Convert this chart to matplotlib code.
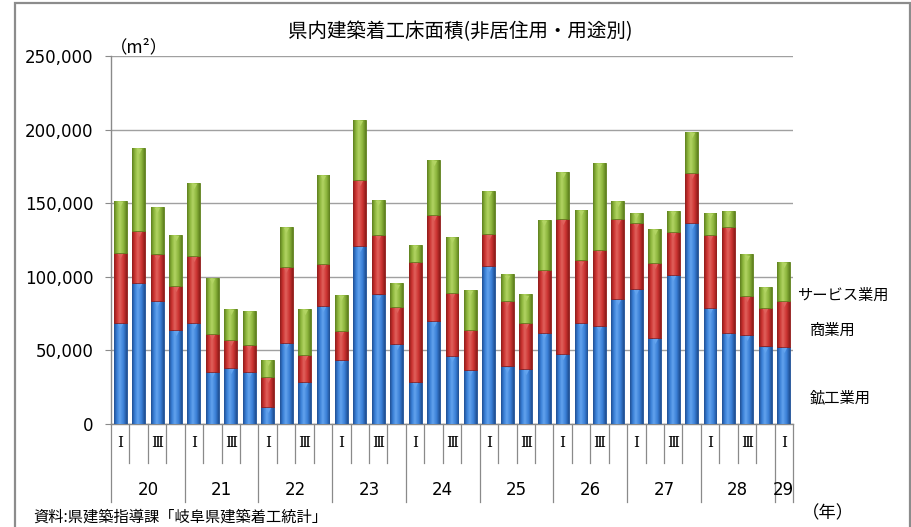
import numpy as np
import matplotlib
matplotlib.use('Agg')
import matplotlib.pyplot as plt
import matplotlib.transforms as mtransforms
from matplotlib.colors import LinearSegmentedColormap
from matplotlib.patches import Rectangle

plt.rcParams['font.family'] = ['Noto Sans CJK JP', 'DejaVu Sans']

# 県内建築着工床面積 (非居住用・用途別), 四半期ごと, 単位 m2
years = ['20', '21', '22', '23', '24', '25', '26', '27', '28', '29']
quarters = ['Ⅰ', '', 'Ⅲ', ''] * 9 + ['Ⅰ']

# 鉱工業用
mining = [68600, 95900, 83600, 63600, 68600, 35500, 38200, 35500, 11400,
          55000, 28400, 80000, 43200, 120900, 88000, 54100, 28400, 70000,
          46100, 36400, 107300, 39100, 37500, 62000, 47700, 68600, 66600,
          85200, 92000, 58400, 101400, 136400, 78900, 61800, 60200, 52700,
          52300]
# 商業用
commerce = [47300, 35200, 31600, 30000, 45700, 25400, 19100, 18400, 20400,
            51800, 18600, 28600, 19800, 45000, 40400, 25400, 81600, 72000,
            43200, 27200, 21800, 44300, 31400, 42500, 91400, 42500, 51600,
            53900, 44400, 50700, 29300, 34100, 49500, 71800, 26900, 26400,
            31300]
# サービス業用
service = [35900, 56600, 32500, 34800, 49300, 38400, 21100, 22900, 11800,
           27300, 31400, 60700, 24500, 40500, 23900, 16000, 11600, 37600,
           37500, 27300, 29300, 18200, 19100, 34100, 32300, 34400, 59100,
           12700, 7200, 23400, 14100, 27700, 15200, 11200, 28100, 14100,
           26200]

labels = ['鉱工業用', '商業用', 'サービス業用']

n = len(mining)
x = np.arange(n)
mining = np.array(mining)
commerce = np.array(commerce)
service = np.array(service)

fig = plt.figure(figsize=(9.12, 5.27), dpi=100)
ax = fig.add_axes([0.1217, 0.1954, 0.7478, 0.6983])

# (dark edge, body, highlight) for each series
colors = [('#1f4f93', '#3a7fd6', '#62a3ee'),
          ('#8e1c1a', '#cc3331', '#e0615c'),
          ('#5d7f1e', '#8cb53c', '#b2d463')]

grad = np.linspace(0, 1, 64).reshape(1, -1)
bottom = np.zeros(n)
stacks = []
for vals, (dark, mid, light) in zip([mining, commerce, service], colors):
    bars = ax.bar(x, vals, width=0.7, bottom=bottom, color=mid,
                  edgecolor=dark, linewidth=0.6, zorder=3)
    # cylinder-like shading across each bar
    cmap = LinearSegmentedColormap.from_list(
        '', [(0, dark), (0.22, mid), (0.45, light), (0.75, mid), (1, dark)])
    for b in bars:
        x0, y0 = b.get_x(), b.get_y()
        im = ax.imshow(grad, cmap=cmap, aspect='auto', zorder=3,
                       extent=(x0, x0 + b.get_width(), y0, y0 + b.get_height()))
        im.set_clip_path(b)
    bottom = bottom + vals
    stacks.append((bottom.copy(), light))

# small light triangles under each segment top
down = mtransforms.offset_copy(ax.transData, fig=fig, y=-2.2, units='points')
for tops, light in stacks:
    ax.scatter(x, tops, marker='v', s=14, color=light, linewidths=0,
               zorder=4, transform=down)

ax.set_xlim(-0.5, n - 0.5)
ax.set_ylim(0, 250000)
ax.set_yticks(np.arange(0, 250001, 50000))
ax.set_yticklabels(['{:,}'.format(v) for v in range(0, 250001, 50000)],
                   family='DejaVu Sans', fontsize=12)
ax.tick_params(axis='y', length=4.5, color='#8a8a8a', pad=8)
ax.set_xticks([])
ax.grid(axis='y', color='#a0a0a0', linewidth=1, zorder=0)
ax.set_axisbelow(True)
for s in ['top', 'right']:
    ax.spines[s].set_visible(False)
for s in ['left', 'bottom']:
    ax.spines[s].set_color('#8a8a8a')
    ax.spines[s].set_linewidth(1)

# two-level category axis: quarters, then years
tr = mtransforms.blended_transform_factory(ax.transData, ax.transAxes)
for i in range(n + 1):
    edge = i - 0.5
    long_line = (i % 4 == 0) or i == n
    y_end = -0.212 if long_line else -0.106
    ax.plot([edge, edge], [0, y_end], color='#8a8a8a', linewidth=0.9,
            transform=tr, clip_on=False)
for i, q in enumerate(quarters):
    if q:
        ax.text(i, -0.052, q, transform=tr, ha='center', va='center',
                family=['DejaVu Serif', 'Noto Sans CJK JP'], fontsize=11)
for k, yr in enumerate(years):
    first = 4 * k
    last = min(4 * k + 3, n - 1)
    ax.text((first + last) / 2, -0.18, yr, transform=tr, ha='center',
            va='center', family='DejaVu Sans', fontsize=12)

# texts around the plot
fig.text(0.505, 0.94, '県内建築着工床面積(非居住用・用途別)', ha='center',
         va='center', fontsize=14)
fig.text(0.121, 0.911, '（m²）', ha='left', va='center', fontsize=12.5)
fig.text(0.874, 0.44, 'サービス業用', ha='left', va='center', fontsize=11)
fig.text(0.888, 0.374, '商業用', ha='left', va='center', fontsize=11)
fig.text(0.888, 0.245, '鉱工業用', ha='left', va='center', fontsize=11)
fig.text(0.879, 0.025, '（年）', ha='left', va='center', fontsize=12.5)
fig.text(0.036, 0.019, '資料:県建築指導課「岐阜県建築着工統計」', ha='left',
         va='center', fontsize=11)

# outer chart frame
fig.patches.append(Rectangle((15 / 912, -0.05), 895 / 912, 1.044,
                             transform=fig.transFigure, fill=False,
                             edgecolor='#8c8c8c', linewidth=1.6))

fig.savefig('out.png', dpi=100)
